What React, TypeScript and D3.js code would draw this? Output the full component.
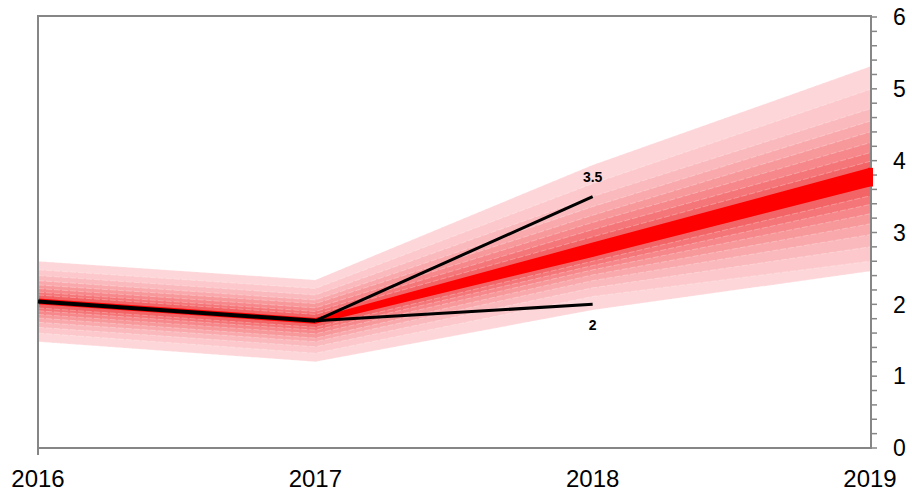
import React from "react";
import * as d3 from "d3";

const years = [2016, 2017, 2018, 2019];
const yTicks = [0, 1, 2, 3, 4, 5, 6];
const central = [2.04, 1.77, 2.76, 3.77];

// band edges, innermost (1) to outermost (9)
const bandUpper = [
  [2.08, 1.81, 2.86, 3.9],
  [2.13, 1.86, 2.94, 3.99],
  [2.17, 1.9, 3.04, 4.11],
  [2.22, 1.95, 3.14, 4.25],
  [2.27, 2.01, 3.24, 4.4],
  [2.33, 2.06, 3.36, 4.55],
  [2.4, 2.13, 3.5, 4.72],
  [2.48, 2.22, 3.68, 4.99],
  [2.6, 2.34, 3.94, 5.31],
];
const bandLower = [
  [2.0, 1.73, 2.66, 3.64],
  [1.95, 1.68, 2.6, 3.51],
  [1.91, 1.64, 2.54, 3.39],
  [1.86, 1.59, 2.48, 3.26],
  [1.81, 1.53, 2.41, 3.12],
  [1.75, 1.48, 2.33, 2.97],
  [1.68, 1.41, 2.23, 2.8],
  [1.6, 1.32, 2.11, 2.6],
  [1.48, 1.2, 1.92, 2.46],
];
const bandColors = [
  "#ff0000",
  "#f36466",
  "#f47678",
  "#f6878a",
  "#f7989b",
  "#f9a9ac",
  "#fab9bc",
  "#fcc8cb",
  "#fdd6d9",
];

const historyYears = [2016, 2017];
const historyValues = [2.04, 1.77];
const scenarioYears = [2017, 2018];
const scenarioHigh = [1.77, 3.5];
const scenarioLow = [1.77, 2.0];
const scenarioHighLabel = "3.5";
const scenarioLowLabel = "2";

const W = 912;
const H = 493;
const AXIS = "#868686";

export default function App() {
  const x = d3.scaleLinear().domain([2016, 2019]).range([38, 870]);
  const y = d3.scaleLinear().domain([0, 6]).range([448, 17]);

  const bands = bandUpper.map((up, i) => {
    const lo = bandLower[i];
    return years.map((yr, j) => ({ yr, hi: up[j], lo: lo[j] }));
  });

  const area = d3
    .area<{ yr: number; hi: number; lo: number }>()
    .x((d) => x(d.yr))
    .y0((d) => y(d.lo))
    .y1((d) => y(d.hi));
  const edge = d3
    .line<[number, number]>()
    .x((d) => x(d[0]))
    .y((d) => y(d[1]));

  const minorTicks = d3.range(0, 30 + 1).map((i) => i * 0.2);
  const last = years.length - 1;

  return (
    <svg
      width={W}
      height={H}
      style={{ position: "absolute", left: 0, top: 0, background: "#fff" }}
      fontFamily="'Liberation Sans', Arial, sans-serif"
    >
      {bands
        .map((pts, i) => ({ pts, i }))
        .reverse()
        .map(({ pts, i }) => (
          <path key={"b" + i} d={area(pts) || ""} fill={bandColors[i]} />
        ))}
      {bands.map((pts, i) =>
        i === 0 ? null : (
          <g key={"s" + i}>
            <path
              d={edge(pts.map((p) => [p.yr, p.hi] as [number, number])) || ""}
              fill="none"
              stroke="#fff"
              strokeOpacity={0.35}
              strokeWidth={0.8}
              strokeDasharray="6,2"
            />
            <path
              d={edge(pts.map((p) => [p.yr, p.lo] as [number, number])) || ""}
              fill="none"
              stroke="#fff"
              strokeOpacity={0.35}
              strokeWidth={0.8}
              strokeDasharray="6,2"
            />
          </g>
        )
      )}

      <rect
        x={x(2016)}
        y={y(6) - 1}
        width={x(2019) - x(2016) + 1}
        height={y(0) - y(6) + 1}
        fill="none"
        stroke={AXIS}
        strokeWidth={2}
      />
      <line x1={x(2016)} x2={x(2016)} y1={y(0)} y2={y(0) + 7} stroke={AXIS} strokeWidth={2} />

      {minorTicks.map((t, i) => (
        <line
          key={"m" + i}
          x1={x(2019) + 1}
          x2={x(2019) + 7}
          y1={y(t)}
          y2={y(t)}
          stroke={AXIS}
          strokeWidth={1.5}
        />
      ))}
      {yTicks.map((t) => (
        <text key={"yt" + t} x={893} y={y(t)} dy="0.36em" fontSize={23} fill="#000">
          {t}
        </text>
      ))}

      <rect
        x={x(2019) - 2}
        y={y(bandUpper[0][last])}
        width={5}
        height={y(bandLower[0][last]) - y(bandUpper[0][last])}
        fill={bandColors[0]}
      />

      {years.map((yr) => (
        <text key={"xt" + yr} x={x(yr)} y={487} textAnchor="middle" fontSize={24} fill="#000">
          {yr}
        </text>
      ))}

      <path
        d={edge(historyYears.map((yr, i) => [yr, historyValues[i]] as [number, number])) || ""}
        fill="none"
        stroke="#000"
        strokeWidth={4}
      />
      <path
        d={edge(scenarioYears.map((yr, i) => [yr, scenarioHigh[i]] as [number, number])) || ""}
        fill="none"
        stroke="#000"
        strokeWidth={3}
      />
      <path
        d={edge(scenarioYears.map((yr, i) => [yr, scenarioLow[i]] as [number, number])) || ""}
        fill="none"
        stroke="#000"
        strokeWidth={3}
      />
      <text
        x={x(2018)}
        y={y(scenarioHigh[1]) - 15}
        textAnchor="middle"
        fontSize={14}
        fontWeight="bold"
        fill="#000"
      >
        {scenarioHighLabel}
      </text>
      <text
        x={x(2018)}
        y={y(scenarioLow[1]) + 26}
        textAnchor="middle"
        fontSize={14}
        fontWeight="bold"
        fill="#000"
      >
        {scenarioLowLabel}
      </text>
    </svg>
  );
}
